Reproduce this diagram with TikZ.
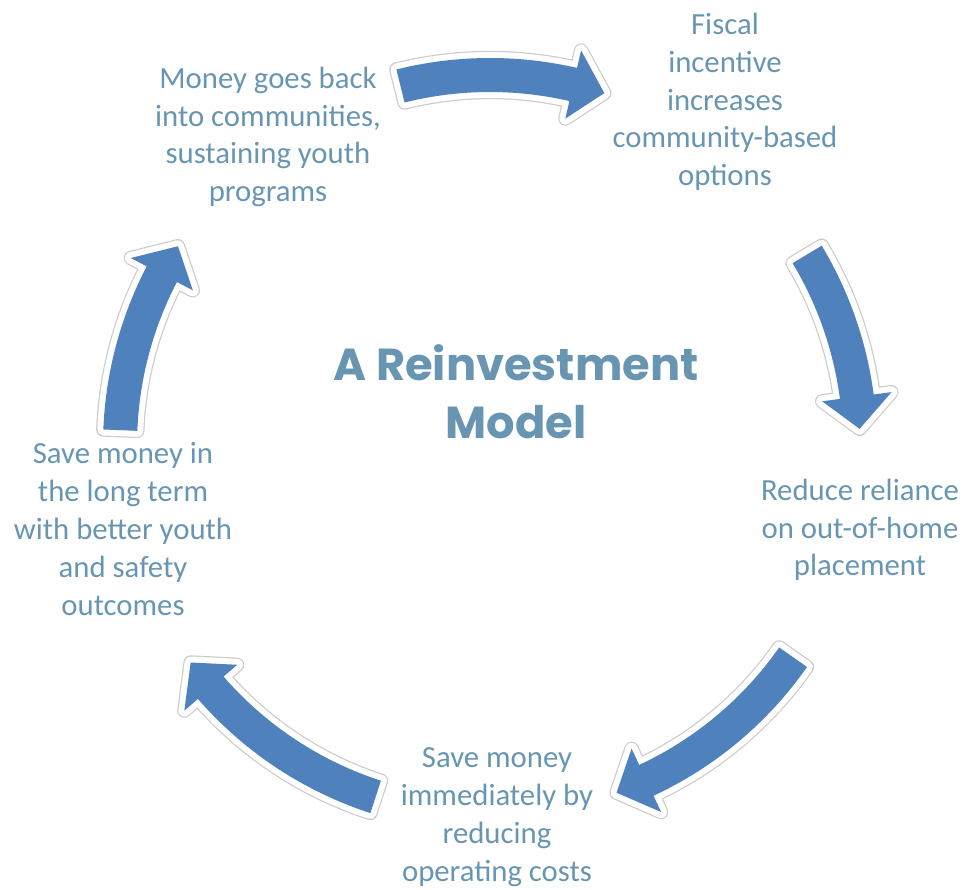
\documentclass[tikz,border=0pt]{standalone}
\usepackage{fontspec}
\setmainfont{Carlito}
\newfontfamily\titlefont{Poppins}
\usetikzlibrary{calc}

\definecolor{cycleblue}{RGB}{79,129,189}
\definecolor{labelblue}{RGB}{104,150,178}

% radii of the cycle (pixel units)
\def\R{370}
\def\Ro{387}
\def\Ri{353}
\def\Rh{405}
\def\Rl{335}

% one curved block arrow, clockwise from #1 (tail) to #2 (tip)
\newcommand\cyclearrow[2]{%
  \pgfmathsetmacro\headbase{#2+5}
  \fill[cycleblue,
        preaction={draw=black!20, line width=8.2pt, line join=round},
        preaction={draw=white, line width=6.8pt, line join=round}]
    (#1:\Ro) arc[start angle=#1, end angle=\headbase, radius=\Ro]
    -- (\headbase:\Rh) -- (#2:\R) -- (\headbase:\Rl)
    -- (\headbase:\Ri) arc[start angle=\headbase, end angle=#1, radius=\Ri]
    -- cycle;
}

\tikzset{
  steplabel/.style={text=labelblue, align=center, font=\fontsize{17.5}{21.5}\selectfont},
  titlelabel/.style={text=labelblue, align=center, font=\titlefont\bfseries\fontsize{25.5}{33}\selectfont}
}

\begin{document}
\begin{tikzpicture}[x=0.02cm, y=0.02cm]
    \useasboundingbox (0,0) rectangle (965,-890);

    \coordinate (O) at (490,-445);

    \begin{scope}[shift={(O)}]
      \cyclearrow{104}{72}
      \cyclearrow{31}{2.5}
      \cyclearrow{-35}{-70}
      \cyclearrow{-108}{-144}
      \cyclearrow{177.7}{147.5}
    \end{scope}

    \node[titlelabel] (title) at (516,-392) {A Reinvestment\\Model};

    \node[steplabel] (fiscal) at (725,-102) {Fiscal\\incentive\\increases\\community-based\\options};
    \node[steplabel] (reduce) at (860,-530) {Reduce reliance\\on out-of-home\\placement};
    \node[steplabel] (now) at (497,-817) {Save money\\immediately by\\reducing\\operating costs};
    \node[steplabel] (later) at (123,-529) {Save money in\\the long term\\with better youth\\and safety\\outcomes};
    \node[steplabel] (back) at (268,-137) {Money goes back\\into communities,\\sustaining youth\\programs};
\end{tikzpicture}
\end{document}
